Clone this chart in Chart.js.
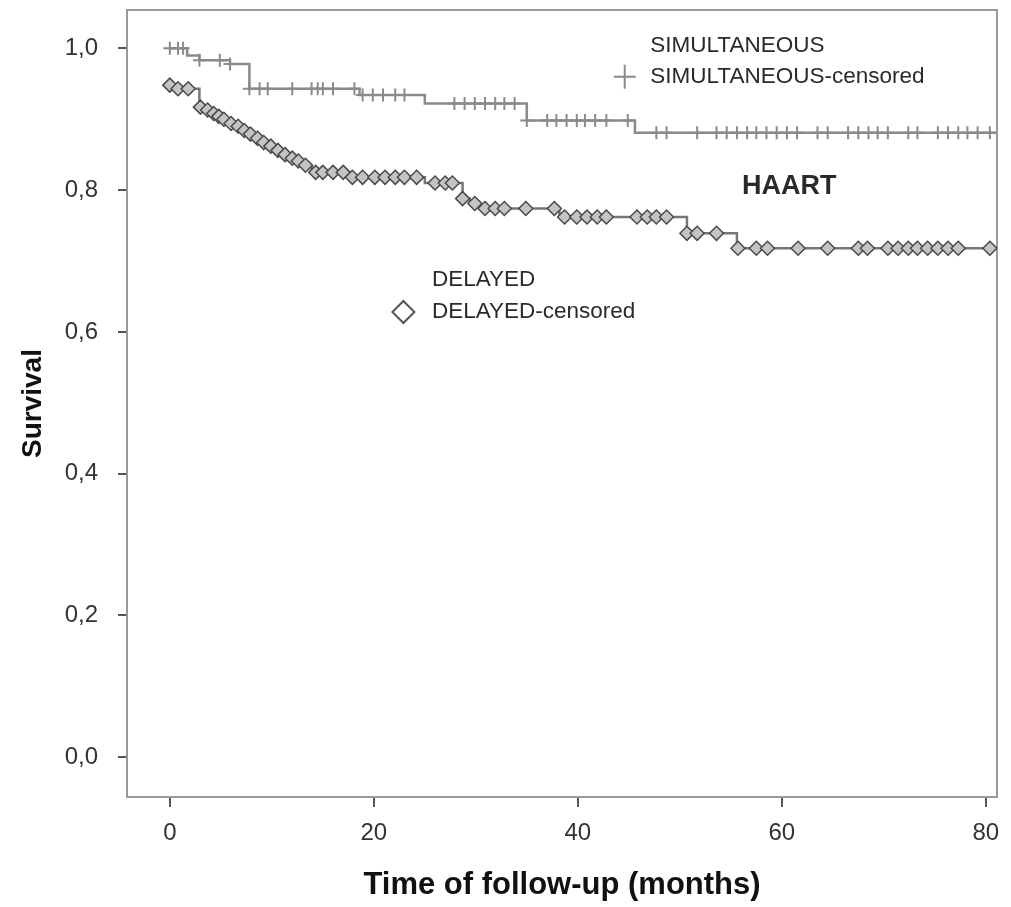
<!DOCTYPE html>
<html>
<head>
<meta charset="utf-8">
<script src="https://cdn.jsdelivr.net/npm/chart.js@4/dist/chart.umd.min.js"></script>
<style>
  html, body { margin: 0; padding: 0; background: #fff; }
  #wrap { width: 1011px; height: 907px; }
</style>
</head>
<body>
<div id="wrap"><canvas id="c" width="1011" height="907"></canvas></div>
<script>
// ---- Data ----
const xTicks = [0, 20, 40, 60, 80];
const yTicks = [0, 0.2, 0.4, 0.6, 0.8, 1.0];

// SIMULTANEOUS Kaplan-Meier steps (time in months, survival after the step)
const simTimes = [0, 1.7, 2.9, 5.9, 7.8, 18.6, 25.0, 35.0, 45.6, 81];
const simSurv  = [1.0, 0.99, 0.983, 0.978, 0.943, 0.934, 0.922, 0.898, 0.881, 0.881];

// SIMULTANEOUS censored marks
const simCensTimes = [0, 0.8, 1.3, 2.9, 4.9, 5.9,
  7.8, 8.8, 9.6, 12.0, 13.9, 14.5, 15.0, 16.0, 18.1,
  18.9, 19.9, 20.9, 22.1, 23.0,
  27.9, 28.9, 29.9, 30.9, 31.9, 32.8, 33.8,
  35.0, 37.0, 37.9, 38.9, 39.9, 40.7, 41.7, 42.8, 44.9,
  47.7, 48.7, 51.7, 53.6, 54.6, 55.6, 56.6, 57.5, 58.5, 59.5, 60.5, 61.5, 63.5, 64.5,
  66.5, 67.5, 68.5, 69.4, 70.4, 72.4, 73.3, 75.3, 76.3, 77.3, 78.2, 79.2, 80.4];
const simCensSurv = [1.0, 1.0, 1.0, 0.983, 0.983, 0.978,
  0.943, 0.943, 0.943, 0.943, 0.943, 0.943, 0.943, 0.943, 0.943,
  0.934, 0.934, 0.934, 0.934, 0.934,
  0.922, 0.922, 0.922, 0.922, 0.922, 0.922, 0.922,
  0.898, 0.898, 0.898, 0.898, 0.898, 0.898, 0.898, 0.898, 0.898,
  0.881, 0.881, 0.881, 0.881, 0.881, 0.881, 0.881, 0.881, 0.881, 0.881, 0.881, 0.881, 0.881, 0.881,
  0.881, 0.881, 0.881, 0.881, 0.881, 0.881, 0.881, 0.881, 0.881, 0.881, 0.881, 0.881, 0.881];

// DELAYED Kaplan-Meier steps
const delTimes = [0, 0.5, 2.9, 3.6, 4.2, 4.7, 5.2, 5.9, 6.6, 7.2, 7.8, 8.5, 9.1, 9.8, 10.5,
  11.2, 11.9, 12.5, 13.2, 13.9, 14.2, 17.6, 25.0, 28.7, 29.4, 30.4, 38.2, 50.7, 55.6, 81];
const delSurv  = [0.948, 0.943, 0.917, 0.913, 0.908, 0.904, 0.900, 0.894, 0.890, 0.884, 0.879,
  0.873, 0.867, 0.862, 0.856, 0.850, 0.845, 0.841, 0.835, 0.829, 0.825, 0.818, 0.810,
  0.788, 0.781, 0.774, 0.762, 0.739, 0.718, 0.718];

// DELAYED censored marks
const delCensTimes = [0, 0.8, 1.8,
  3.0, 3.7, 4.3, 4.8, 5.3, 6.0, 6.7, 7.3, 7.9, 8.6, 9.2, 9.9, 10.6, 11.3, 12.0, 12.6, 13.3,
  14.3, 15.0, 16.0, 17.0,
  17.9, 18.9, 20.1, 21.1, 22.1, 23.0, 24.2,
  26.0, 27.0, 27.7,
  28.7, 29.9,
  30.9, 31.9, 32.8, 34.9, 37.7,
  38.7, 39.9, 40.9, 41.9, 42.8, 45.8, 46.8, 47.7, 48.7,
  50.7, 51.7, 53.6,
  55.7, 57.5, 58.6, 61.6, 64.5, 67.5, 68.4, 70.4, 71.4, 72.4, 73.3, 74.3, 75.3, 76.3, 77.3, 80.4];
const delCensSurv = [0.948, 0.943, 0.943,
  0.917, 0.913, 0.908, 0.904, 0.900, 0.894, 0.890, 0.884, 0.879, 0.873, 0.867, 0.862, 0.856, 0.850, 0.845, 0.841, 0.835,
  0.825, 0.825, 0.825, 0.825,
  0.818, 0.818, 0.818, 0.818, 0.818, 0.818, 0.818,
  0.810, 0.810, 0.810,
  0.788, 0.781,
  0.774, 0.774, 0.774, 0.774, 0.774,
  0.762, 0.762, 0.762, 0.762, 0.762, 0.762, 0.762, 0.762, 0.762,
  0.739, 0.739, 0.739,
  0.718, 0.718, 0.718, 0.718, 0.718, 0.718, 0.718, 0.718, 0.718, 0.718, 0.718, 0.718, 0.718, 0.718, 0.718, 0.718];

const toPts = (xs, ys) => xs.map((x, i) => ({ x: x, y: ys[i] }));

const FONT = "'Liberation Sans', Arial, Helvetica, sans-serif";
const TEXT = '#2a2a2a';

// annotation text / legend block (positions in data units)
const annotations = {
  simTitle: { text: 'SIMULTANEOUS', x: 47.1, y: 1.004 },
  simCens:  { text: 'SIMULTANEOUS-censored', x: 47.1, y: 0.960, sym: 'cross', sx: 44.6 },
  haart:    { text: 'HAART', x: 56.1, y: 0.805 },
  delTitle: { text: 'DELAYED', x: 25.7, y: 0.674 },
  delCens:  { text: 'DELAYED-censored', x: 25.7, y: 0.628, sym: 'diamond', sx: 22.9 }
};

const framePlugin = {
  id: 'frame',
  beforeDatasetsDraw(chart) {
    const { ctx, chartArea: a } = chart;
    ctx.save();
    ctx.strokeStyle = '#9a9a9a';
    ctx.lineWidth = 2;
    ctx.strokeRect(a.left, a.top, a.right - a.left, a.bottom - a.top);
    ctx.restore();
  },
  afterDraw(chart) {
    const { ctx } = chart;
    const xs = chart.scales.x, ys = chart.scales.y;
    ctx.save();
    ctx.textBaseline = 'middle';
    ctx.textAlign = 'left';
    for (const k of Object.keys(annotations)) {
      const an = annotations[k];
      const px = xs.getPixelForValue(an.x), py = ys.getPixelForValue(an.y);
      if (k === 'haart') {
        ctx.font = "bold 27px " + FONT;
      } else {
        ctx.font = "22.5px " + FONT;
      }
      ctx.fillStyle = TEXT;
      ctx.fillText(an.text, px, py);
      if (an.sym === 'cross') {
        const sx = xs.getPixelForValue(an.sx);
        ctx.strokeStyle = '#8a8a8a';
        ctx.lineWidth = 2;
        ctx.beginPath();
        ctx.moveTo(sx - 11, py); ctx.lineTo(sx + 11, py);
        ctx.moveTo(sx, py - 12); ctx.lineTo(sx, py + 12);
        ctx.stroke();
      } else if (an.sym === 'diamond') {
        const sx = xs.getPixelForValue(an.sx);
        ctx.strokeStyle = '#555';
        ctx.fillStyle = '#fff';
        ctx.lineWidth = 2;
        ctx.beginPath();
        ctx.moveTo(sx, py - 11); ctx.lineTo(sx + 11, py);
        ctx.lineTo(sx, py + 11); ctx.lineTo(sx - 11, py);
        ctx.closePath();
        ctx.fill(); ctx.stroke();
      }
    }
    ctx.restore();
  }
};

const fmt = v => Number(v).toFixed(1).replace('.', ',');

new Chart(document.getElementById('c'), {
  type: 'scatter',
  data: {
    datasets: [
      {
        label: 'SIMULTANEOUS-censored',
        data: toPts(simCensTimes, simCensSurv),
        pointStyle: 'cross',
        pointRadius: 6.5,
        borderColor: '#8a8a8a',
        pointBorderWidth: 2,
        showLine: false,
        order: 0
      },
      {
        label: 'DELAYED-censored',
        data: toPts(delCensTimes, delCensSurv),
        pointStyle: 'rectRot',
        pointRadius: 7,
        backgroundColor: '#c4c4c4',
        borderColor: '#4a4a4a',
        pointBorderWidth: 1.5,
        showLine: false,
        order: 0
      },
      {
        label: 'SIMULTANEOUS',
        data: toPts(simTimes, simSurv),
        showLine: true,
        stepped: 'before',
        borderColor: '#8a8a8a',
        borderWidth: 2.5,
        pointRadius: 0,
        fill: false,
        order: 1
      },
      {
        label: 'DELAYED',
        data: toPts(delTimes, delSurv),
        showLine: true,
        stepped: 'before',
        borderColor: '#777',
        borderWidth: 2.5,
        pointRadius: 0,
        fill: false,
        order: 1
      }
    ]
  },
  options: {
    responsive: false,
    animation: false,
    events: [],
    layout: { padding: { left: 0, top: 10, right: 14, bottom: 0 } },
    plugins: {
      legend: { display: false },
      tooltip: { enabled: false },
      title: { display: false }
    },
    scales: {
      x: {
        type: 'linear',
        min: -4.2,
        max: 81.1,
        afterBuildTicks: s => { s.ticks = xTicks.map(v => ({ value: v })); },
        afterFit: s => { s.height = 110; s.paddingLeft = 0; s.paddingRight = 0; },
        border: { display: false },
        grid: { drawOnChartArea: false, drawTicks: true, tickLength: 10, color: '#555', lineWidth: 2 },
        ticks: { color: '#333', font: { family: FONT, size: 24 }, padding: 12, maxRotation: 0 },
        title: {
          display: true,
          text: 'Time of follow-up (months)',
          color: '#111',
          font: { family: FONT, size: 31, weight: 'bold' },
          padding: { top: 0, bottom: 3 }
        }
      },
      y: {
        type: 'linear',
        min: -0.056,
        max: 1.054,
        afterBuildTicks: s => { s.ticks = yTicks.map(v => ({ value: v })); },
        afterFit: s => { s.width = 127; s.paddingTop = 0; s.paddingBottom = 0; },
        border: { display: false },
        grid: { drawOnChartArea: false, drawTicks: true, tickLength: 9, color: '#555', lineWidth: 2 },
        ticks: { color: '#333', font: { family: FONT, size: 24 }, padding: 20, callback: v => fmt(v) },
        title: {
          display: true,
          text: 'Survival',
          color: '#111',
          font: { family: FONT, size: 28, weight: 'bold' },
          padding: { top: 16, bottom: 0 }
        }
      }
    }
  },
  plugins: [framePlugin]
});
</script>
</body>
</html>
